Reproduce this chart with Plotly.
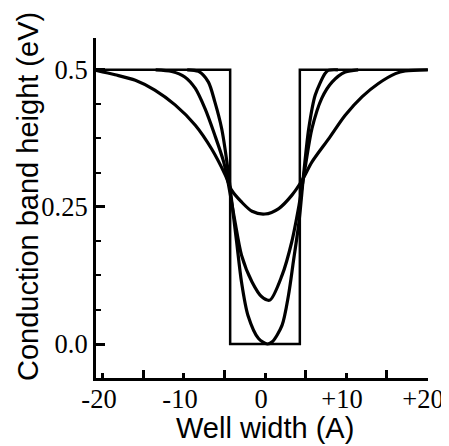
import plotly.graph_objects as go

# Square well profile (x in Angstrom, height in eV)
well_x = [-20.9, -4.3, -4.3, 4.3, 4.3, 20.1]
well_v = [0.5, 0.5, 0.0, 0.0, 0.5, 0.5]

# Interdiffused profiles
c1_x = [-9.6, -8.2, -7.0, -6.2, -5.35, -4.7, -4.1, -3.5, -2.9, -2.1, -0.8, 0.3, 0.9, 2.1, 2.9, 3.5, 4.2, 4.8, 5.4, 6.2, 7.4, 7.8, 9.0]
c1_v = [0.5, 0.497, 0.478, 0.442, 0.393, 0.332, 0.259, 0.186, 0.113, 0.052, 0.010, 0.0, 0.004, 0.034, 0.089, 0.150, 0.223, 0.314, 0.393, 0.454, 0.493, 0.499, 0.5]

c2_x = [-13.5, -11.5, -9.9, -8.6, -7.4, -6.2, -5.1, -4.5, -3.7, -2.9, -1.6, -0.4, 0.6, 2.1, 3.3, 4.2, 5.0, 5.8, 7.0, 8.3, 9.9, 11.5]
c2_v = [0.5, 0.497, 0.487, 0.466, 0.429, 0.381, 0.332, 0.290, 0.223, 0.162, 0.113, 0.086, 0.080, 0.125, 0.186, 0.253, 0.326, 0.393, 0.448, 0.478, 0.496, 0.5]

c3_x = [-20.9, -18.5, -16.0, -13.6, -11.1, -8.6, -6.6, -4.9, -4.1, -2.9, -1.6, 0.0, 1.7, 3.3, 4.6, 5.8, 7.9, 9.9, 12.0, 14.0, 16.1, 17.3, 20.1]
c3_v = [0.499, 0.491, 0.481, 0.463, 0.436, 0.399, 0.356, 0.308, 0.280, 0.259, 0.242, 0.237, 0.247, 0.271, 0.299, 0.332, 0.375, 0.417, 0.451, 0.475, 0.493, 0.498, 0.500]

x_tick_vals = [-20, -10, 0, 10, 20]
x_tick_text = ["-20", "-10", "0", "+10", "+20"]
y_tick_vals = [0, 0.25, 0.5]
y_tick_text = ["0.0", "0.25", "0.5"]

fig = go.Figure()
fig.add_trace(go.Scatter(x=well_x, y=well_v, mode="lines",
                         line=dict(color="black", width=2.5), showlegend=False))
for xs, vs in [(c1_x, c1_v), (c2_x, c2_v), (c3_x, c3_v)]:
    fig.add_trace(go.Scatter(x=xs, y=vs, mode="lines",
                             line=dict(color="black", width=3.2, shape="spline", smoothing=0.8),
                             showlegend=False))

tick_font = dict(family="Liberation Serif", size=26.5, color="black")
title_font = dict(family="Liberation Sans", size=29, color="black")

fig.update_layout(
    width=449, height=446,
    margin=dict(l=88, r=29, t=30, b=76),
    paper_bgcolor="white", plot_bgcolor="white",
    xaxis=dict(range=[-20.86, 20.12], showgrid=False, zeroline=False,
               showline=True, linecolor="black", linewidth=3,
               tickmode="array", tickvals=x_tick_vals, ticktext=x_tick_text,
               ticks="inside", ticklen=5, tickwidth=2.5, tickcolor="black",
               ticklabelstandoff=-5, ticklabelshift=-4,
               minor=dict(tickmode="array", tickvals=[-15, -5, 5, 15], ticks="inside", ticklen=8, tickwidth=2.5, tickcolor="black"),
               tickfont=tick_font),
    yaxis=dict(range=[-0.062, 0.558], showgrid=False, zeroline=False,
               showline=True, linecolor="black", linewidth=3,
               tickmode="array", tickvals=y_tick_vals, ticktext=y_tick_text,
               ticks="inside", ticklen=9, tickwidth=2.5, tickcolor="black",
               minor=dict(dtick=0.0625, tick0=0, ticks="inside", ticklen=5, tickwidth=2, tickcolor="black"),
               tickfont=tick_font),
    annotations=[
        dict(text="Well width (A)", xref="paper", yref="paper", x=0.51, y=-0.146,
             xanchor="center", yanchor="middle", showarrow=False, font=title_font),
        dict(text="Conduction band height (eV)", xref="paper", yref="paper", x=-0.205, y=0.535,
             xanchor="center", yanchor="middle", textangle=-90, showarrow=False, font=title_font),
    ],
)

fig.write_html("out.html")
